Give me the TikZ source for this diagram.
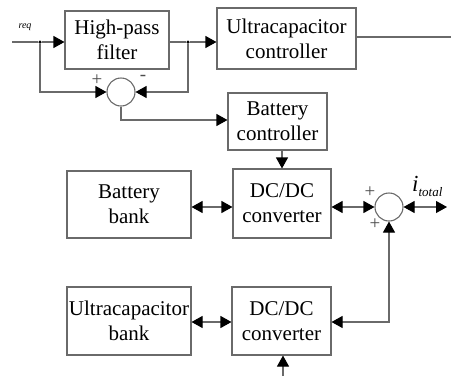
\documentclass[tikz,border=0pt]{standalone}
\usepackage{fontspec}
\setmainfont{Liberation Serif}
\usetikzlibrary{arrows.meta}
\definecolor{linegray}{HTML}{6A6A6A}
\tikzset{
  blockbox/.style={draw=linegray, line width=1.1pt, minimum width=#1, inner sep=0pt,
    align=center, font=\fontsize{21}{25}\selectfont, text=black},
  sumnode/.style={draw=linegray, line width=1.1pt, circle, minimum size=28pt, inner sep=0pt},
  wire/.style={draw=linegray, line width=1.1pt},
  tip/.tip={Triangle[length=11pt,width=12pt,fill=black,color=black]},
  arr/.style={wire, -tip},
  darr/.style={wire, tip-tip},
  junction/.style={circle, fill=black, inner sep=0pt, minimum size=3.5pt},
  sign/.style={font=\fontsize{19}{19}\selectfont, text=black!70, inner sep=0pt}
}
\begin{document}
\begin{tikzpicture}[x=1pt,y=-1pt]
\useasboundingbox (0,0) rectangle (451,376);

% blocks
\node[blockbox=104pt, minimum height=58pt] (hpf) at (117,40) {High-pass\\filter};
\node[blockbox=139pt, minimum height=61pt] (ucc) at (286.5,38.5) {Ultracapacitor\\controller};
\node[blockbox=99pt, minimum height=57pt] (bc) at (277.5,121.5) {Battery\\controller};
\node[blockbox=124pt, minimum height=67pt] (bb) at (129,204.5) {Battery\\bank};
\node[blockbox=98pt, minimum height=69pt] (dca) at (282,203.5) {DC/DC\\converter};
\node[blockbox=124pt, minimum height=68pt] (ub) at (129,321) {Ultracapacitor\\bank};
\node[blockbox=99pt, minimum height=68pt] (dcb) at (281.5,321) {DC/DC\\converter};

% summing junctions
\node[sumnode] (s1) at (121,92) {};
\node[sumnode] (s2) at (389,207) {};

% branch points and free ends
\coordinate (in) at (12,42);
\node[junction] (j1) at (40,42) {};
\node[junction] (j2) at (188,42) {};
\coordinate (ucout) at (451,37);
\coordinate (iout) at (447,207);
\coordinate (cmd) at (283,376);

% labels
\node[font=\fontsize{10}{10}\selectfont\itshape, inner sep=0pt] (reqlbl) at (25,27) {req};
\node[sign] (p1) at (97,80) {+};
\node[sign] (m1) at (143,78) {-};
\node[sign] (p2) at (370,192) {+};
\node[sign] (p3) at (375,224) {+};
\node[inner sep=0pt, anchor=west] (itot) at (412,186)
  {\fontsize{23}{23}\selectfont\textit{i}\raisebox{-5pt}{\fontsize{13}{13}\selectfont\textit{total}}};

% high-pass path
\draw[wire] (in) -- (j1);
\draw[arr] (j1) -- (hpf.west |- j1);
\draw[wire] (hpf.east |- j2) -- (j2);
\draw[arr] (j2) -- (ucc.west |- j2);
\draw[wire] (ucc.east |- ucout) -- (ucout);

% difference for the battery reference
\draw[arr] (j1) |- (s1.west);
\draw[arr] (j2) |- (s1.east);
\draw[arr] (s1.south) |- (bc.west |- 0,120);
\draw[arr] (bc.south -| dca.north) -- (dca.north);

% power paths
\draw[darr] (bb.east |- 0,207) -- (dca.west |- 0,207);
\draw[darr] (dca.east |- s2) -- (s2.west);
\draw[darr] (s2.east) -- (iout);
\draw[darr] (ub.east |- 0,322) -- (dcb.west |- 0,322);
\draw[darr] (dcb.east |- 0,322) -| (s2.south);
\draw[arr] (cmd) -- (dcb.south -| cmd);
\end{tikzpicture}
\end{document}
